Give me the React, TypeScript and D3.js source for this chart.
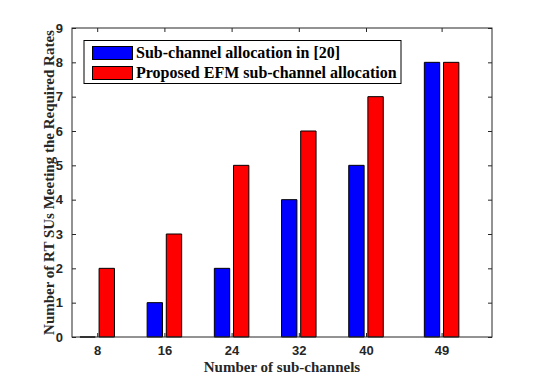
import * as d3 from 'd3';
import React, { useRef, useEffect } from 'react';

// number of sub-channels on the x axis
const subChannels = [8, 16, 24, 32, 40, 49];
// RT SUs meeting the required rates, one array per method
const refAllocation = [0, 1, 2, 4, 5, 8];
const efmAllocation = [2, 3, 5, 6, 7, 8];
const seriesNames = ['Sub-channel allocation in [20]', 'Proposed EFM sub-channel allocation'];
const seriesColors = ['#0000ff', '#ff0000'];
const yTicks = [0, 1, 2, 3, 4, 5, 6, 7, 8, 9];

const App = () => {
    const svgRef = useRef<SVGSVGElement>(null);

    useEffect(() => {
        const width = 544;
        const height = 380;
        const left = 72, right = 492, top = 28, bottom = 337;
        const ink = '#262626';
        const tickFont = '"Liberation Sans", Arial, sans-serif';
        const serif = '"Liberation Serif", "Times New Roman", serif';

        const svg = d3.select(svgRef.current);
        svg.selectAll('*').remove();
        svg.attr('width', width).attr('height', height);

        svg.append('rect').attr('width', width).attr('height', height).attr('fill', '#fff');

        const x = d3.scaleLinear().domain([5, 55]).range([left, right]);
        const y = d3.scaleLinear().domain([0, 9]).range([bottom, top]);

        // grouped bars, matlab style offsets (group width 4/7 of spacing)
        const series = [refAllocation, efmAllocation];
        const offset = 1.14;
        const barW = 1.83;
        series.forEach((vals, s) => {
            const dx = s === 0 ? -offset : offset;
            svg.append('g')
                .selectAll('path')
                .data(vals)
                .enter().append('path')
                .attr('d', (d, i) => {
                    const x0 = x(subChannels[i] + dx - barW / 2);
                    const x1 = x(subChannels[i] + dx + barW / 2);
                    return `M${x0},${y(0)}V${y(d)}H${x1}V${y(0)}Z`;
                })
                .attr('fill', seriesColors[s])
                .attr('stroke', '#000')
                .attr('stroke-width', 1);
        });

        // bottom / left axes with inward ticks
        const xAxis = svg.append('g')
            .attr('transform', `translate(0,${bottom})`)
            .call(d3.axisBottom(x).tickValues(subChannels).tickSizeInner(-4).tickSizeOuter(0).tickPadding(9));
        const yAxis = svg.append('g')
            .attr('transform', `translate(${left},0)`)
            .call(d3.axisLeft(y).tickValues(yTicks).tickSizeInner(-4).tickSizeOuter(0).tickPadding(9));
        [xAxis, yAxis].forEach((g) => {
            g.select('.domain').remove();
            g.selectAll('line').attr('stroke', ink);
            g.selectAll('text')
                .attr('fill', ink)
                .style('font-family', tickFont)
                .style('font-weight', 'bold')
                .style('font-size', '13px');
        });

        // mirrored ticks on top and right
        svg.append('g')
            .attr('transform', `translate(0,${top})`)
            .call(d3.axisTop(x).tickValues(subChannels).tickSizeInner(-4).tickSizeOuter(0).tickFormat(() => ''))
            .call((g) => g.select('.domain').remove())
            .selectAll('line').attr('stroke', ink);
        svg.append('g')
            .attr('transform', `translate(${right},0)`)
            .call(d3.axisRight(y).tickValues(yTicks).tickSizeInner(-4).tickSizeOuter(0).tickFormat(() => ''))
            .call((g) => g.select('.domain').remove())
            .selectAll('line').attr('stroke', ink);

        // axes box
        svg.append('rect')
            .attr('x', left).attr('y', top)
            .attr('width', right - left).attr('height', bottom - top)
            .attr('fill', 'none').attr('stroke', ink).attr('stroke-width', 1);

        // axis titles
        svg.append('text')
            .attr('x', (left + right) / 2).attr('y', 372)
            .attr('text-anchor', 'middle')
            .attr('fill', ink)
            .style('font-family', serif).style('font-weight', 'bold').style('font-size', '15px')
            .text('Number of sub-channels');
        svg.append('text')
            .attr('transform', `translate(54,${(top + bottom) / 2}) rotate(-90)`)
            .attr('text-anchor', 'middle')
            .attr('fill', ink)
            .style('font-family', serif).style('font-weight', 'bold').style('font-size', '15px')
            .text('Number of RT SUs Meeting the Required Rates');

        // legend
        const legend = svg.append('g');
        legend.append('rect')
            .attr('x', 84).attr('y', 40.5).attr('width', 317).attr('height', 43)
            .attr('fill', '#fff').attr('stroke', '#000').attr('stroke-width', 1);
        const item = legend.selectAll('g.item')
            .data(seriesNames)
            .enter().append('g')
            .attr('class', 'item')
            .attr('transform', (d, i) => `translate(0,${i * 20})`);
        item.append('rect')
            .attr('x', 92.5).attr('y', 46.5).attr('width', 40).attr('height', 13)
            .attr('fill', (d, i) => seriesColors[i])
            .attr('stroke', '#000').attr('stroke-width', 1);
        item.append('text')
            .attr('x', 136).attr('y', 58)
            .attr('fill', '#000')
            .style('font-family', serif).style('font-weight', 'bold').style('font-size', '16px')
            .text((d) => d);
    }, []);

    return (
        <svg ref={svgRef} style={{ position: 'absolute', left: 0, top: 0, display: 'block' }}></svg>
    );
};

export default App;
